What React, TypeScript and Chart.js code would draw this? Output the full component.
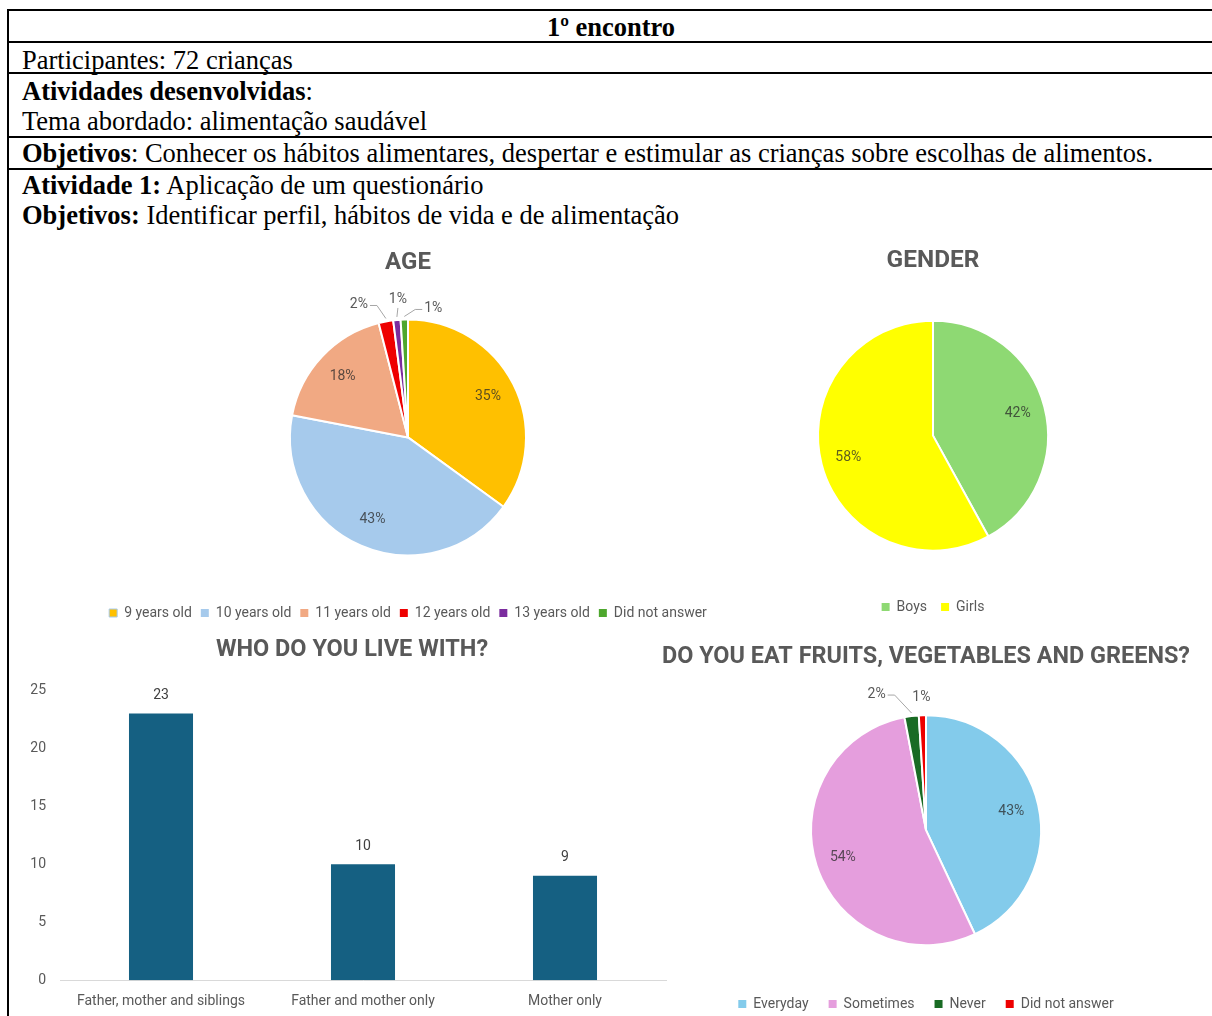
import React, { useEffect, useRef } from "react";
import { Chart, registerables } from "chart.js";

Chart.register(...registerables);

// ---------- DATA ----------
const ageLabels = ["9 years old", "10 years old", "11 years old", "12 years old", "13 years old", "Did not answer"];
const ageValues = [35, 43, 18, 2, 1, 1];
const ageColors = ["#FFC000", "#A6CAEC", "#F1A983", "#EE0000", "#7B2C9E", "#4EA72E"];

const genderLabels = ["Boys", "Girls"];
const genderValues = [42, 58];
const genderColors = ["#8ED973", "#FFFF00"];

const livingLabels = ["Father, mother and siblings", "Father and mother only", "Mother only"];
const livingValues = [23, 10, 9];

const fruitLabels = ["Everyday", "Sometimes", "Never", "Did not answer"];
const fruitValues = [43, 54, 2, 1];
const fruitColors = ["#83CBEB", "#E59EDD", "#196B24", "#EE0000"];

const FONT = "Roboto, 'Noto Sans', sans-serif";
const GRAY = "#595959";

// ---------- PLUGINS ----------
const pieLabelPlugin = {
  id: "pieLabels",
  afterDatasetsDraw(chart: any, _args: any, opts: any) {
    const { ctx } = chart;
    const meta = chart.getDatasetMeta(0);
    const data = chart.data.datasets[0].data;
    const outside = opts.outside || {};
    meta.data.forEach((arc: any, i: number) => {
      const { x, y, startAngle, endAngle, outerRadius } = arc.getProps(
        ["x", "y", "startAngle", "endAngle", "outerRadius"],
        true
      );
      const mid = (startAngle + endAngle) / 2;
      const text = data[i] + "%";
      ctx.save();
      ctx.font = `${opts.size || 14}px ${FONT}`;
      ctx.textAlign = "center";
      ctx.textBaseline = "middle";
      const o = outside[i];
      if (o) {
        const ex = x + Math.cos(mid) * outerRadius;
        const ey = y + Math.sin(mid) * outerRadius;
        const tx = ex + o[0];
        const ty = ey + o[1];
        const w = ctx.measureText(text).width;
        ctx.strokeStyle = "#A6A6A6";
        ctx.lineWidth = 1;
        ctx.beginPath();
        if (o[2] === "h") {
          const sx = o[0] < 0 ? tx + w / 2 + 2 : tx - w / 2 - 2;
          const kx = o[0] < 0 ? sx + 7 : sx - 7;
          ctx.moveTo(sx, ty + 1);
          ctx.lineTo(kx, ty + 1);
          ctx.lineTo(ex, ey - 3);
          ctx.stroke();
        } else if (o[2] === "v") {
          ctx.moveTo(tx, ty + 8);
          ctx.lineTo(ex, ey - 3);
          ctx.stroke();
        }
        ctx.fillStyle = GRAY;
        ctx.fillText(text, tx, ty);
      } else {
        const r = outerRadius * (opts.inset || 0.76);
        ctx.fillStyle = "rgba(40,40,40,0.75)";
        ctx.fillText(text, x + Math.cos(mid) * r, y + Math.sin(mid) * r);
      }
      ctx.restore();
    });
  },
};

const barValuePlugin = {
  id: "barValues",
  afterDatasetsDraw(chart: any) {
    const { ctx } = chart;
    const meta = chart.getDatasetMeta(0);
    const data = chart.data.datasets[0].data;
    ctx.save();
    ctx.font = `14px ${FONT}`;
    ctx.fillStyle = "#404040";
    ctx.textAlign = "center";
    ctx.textBaseline = "middle";
    meta.data.forEach((bar: any, i: number) => {
      ctx.fillText(String(data[i]), bar.x, bar.y - 18);
    });
    ctx.restore();
  },
};

function legendLabels(special?: { index: number; color: string }) {
  return (chart: any) => {
    const items = Chart.overrides.pie.plugins.legend.labels.generateLabels(chart);
    items.forEach((it: any) => {
      it.lineWidth = 0;
      if (special && it.index === special.index) {
        it.lineWidth = 1;
        it.strokeStyle = special.color;
      }
    });
    return items;
  };
}

function pieConfig(p: {
  labels: string[];
  values: number[];
  colors: string[];
  title: string;
  titleSize: number;
  titlePad: { top: number; bottom: number };
  legendPad: number;
  legendSize: number;
  radius: number;
  layoutPad: any;
  outside: any;
  special?: { index: number; color: string };
}) {
  return {
    type: "pie",
    data: {
      labels: p.labels,
      datasets: [
        {
          data: p.values,
          backgroundColor: p.colors,
          borderColor: "#FFFFFF",
          borderWidth: 2,
        },
      ],
    },
    options: {
      animation: false,
      responsive: false,
      maintainAspectRatio: false,
      radius: p.radius,
      layout: { padding: p.layoutPad },
      plugins: {
        tooltip: { enabled: false },
        title: {
          display: true,
          text: p.title,
          color: GRAY,
          font: { family: FONT, size: p.titleSize, weight: "bold", lineHeight: 1.2 },
          padding: p.titlePad,
        },
        legend: {
          display: true,
          position: "bottom",
          labels: {
            color: GRAY,
            font: { family: FONT, size: p.legendSize },
            boxWidth: 8,
            boxHeight: 8,
            padding: p.legendPad,
            generateLabels: legendLabels(p.special),
          },
        },
        pieLabels: { outside: p.outside, inset: 0.76, size: 14 },
      },
    },
    plugins: [pieLabelPlugin],
  };
}

function useChart(ref: React.RefObject<HTMLCanvasElement>, make: () => any) {
  useEffect(() => {
    if (!ref.current) return;
    const chart = new Chart(ref.current, make());
    return () => chart.destroy();
  }, []);
}

export default function App() {
  const ageRef = useRef<HTMLCanvasElement>(null);
  const genderRef = useRef<HTMLCanvasElement>(null);
  const barRef = useRef<HTMLCanvasElement>(null);
  const fruitRef = useRef<HTMLCanvasElement>(null);

  useChart(ageRef, () =>
    pieConfig({
      labels: ageLabels,
      values: ageValues,
      colors: ageColors,
      title: "AGE",
      titleSize: 24,
      titlePad: { top: 9, bottom: 0 },
      legendPad: 9,
      legendSize: 14,
      radius: 118,
      layoutPad: { left: 0, right: 4, top: 0, bottom: 0 },
      outside: { 3: [-27, -17, "h"], 4: [1, -20, "v"], 5: [29, -11, "h"] },
      special: { index: 0, color: "#A6CAEC" },
    })
  );

  useChart(genderRef, () =>
    pieConfig({
      labels: genderLabels,
      values: genderValues,
      colors: genderColors,
      title: "GENDER",
      titleSize: 24.4,
      titlePad: { top: 16, bottom: 10 },
      legendPad: 14,
      legendSize: 14,
      radius: 115,
      layoutPad: { left: 0, right: 0, top: 0, bottom: 0 },
      outside: {},
    })
  );

  useChart(fruitRef, () =>
    pieConfig({
      labels: fruitLabels,
      values: fruitValues,
      colors: fruitColors,
      title: "DO YOU EAT FRUITS, VEGETABLES AND GREENS?",
      titleSize: 23.6,
      titlePad: { top: 13, bottom: 12 },
      legendPad: 20,
      legendSize: 14,
      radius: 115,
      layoutPad: { left: 0, right: 0, top: 0, bottom: 0 },
      outside: { 2: [-35, -22, "h"], 3: [-1, -18, "none"] },
    })
  );

  useChart(barRef, () => ({
    type: "bar",
    data: {
      labels: livingLabels,
      datasets: [
        {
          data: livingValues,
          backgroundColor: "#156082",
          barPercentage: 0.317,
          categoryPercentage: 1,
          yAxisID: "y",
        },
      ],
    },
    options: {
      animation: false,
      responsive: false,
      maintainAspectRatio: false,
      layout: { padding: { left: 16, right: 4, top: 0, bottom: 0 } },
      plugins: {
        legend: { display: false },
        tooltip: { enabled: false },
        title: {
          display: true,
          text: "WHO DO YOU LIVE WITH?",
          color: GRAY,
          font: { family: FONT, size: 23.5, weight: "bold", lineHeight: 1.2 },
          padding: { top: 6, bottom: 26 },
        },
      },
      scales: {
        x: {
          grid: { display: false, drawTicks: false },
          border: { display: true, color: "#D9D9D9", width: 1 },
          ticks: { color: GRAY, font: { family: FONT, size: 14 }, padding: 12.5 },
        },
        y: {
          min: 0,
          max: 25,
          grid: { display: false, drawTicks: false },
          border: { display: false },
          ticks: { stepSize: 5, color: GRAY, font: { family: FONT, size: 14 }, padding: 14 },
          afterFit: (scale: any) => {
            scale.width = 44;
          },
        },
        y2: {
          position: "right",
          display: true,
          grid: { display: false, drawTicks: false },
          border: { display: false },
          ticks: { display: false },
          afterFit: (scale: any) => {
            scale.width = 22;
          },
        },
      },
    },
    plugins: [barValuePlugin],
  }));

  const line = (top: number): React.CSSProperties => ({
    position: "absolute",
    left: 7,
    top,
    width: 1230,
    height: 2,
    background: "#000",
  });
  const txt = (top: number): React.CSSProperties => ({
    position: "absolute",
    left: 22,
    top,
    fontSize: 26.5,
    lineHeight: "30px",
    whiteSpace: "nowrap",
  });
  const cv = (left: number, top: number): React.CSSProperties => ({
    position: "absolute",
    left,
    top,
    display: "block",
  });

  return (
    <div
      style={{
        position: "absolute",
        left: 0,
        top: 0,
        width: 1212,
        height: 1016,
        overflow: "hidden",
        background: "#FFFFFF",
        color: "#000",
        fontFamily: "'Liberation Serif', 'Times New Roman', serif",
      }}
    >
      <div style={line(9)} />
      <div style={line(41)} />
      <div style={line(72)} />
      <div style={line(136)} />
      <div style={line(168)} />
      <div style={{ position: "absolute", left: 7, top: 9, width: 2, height: 1100, background: "#000" }} />

      <div style={{ ...txt(12), left: 10, width: 1202, textAlign: "center", fontWeight: "bold" }}>1º encontro</div>
      <div style={txt(45)}>Participantes: 72 crianças</div>
      <div style={txt(76)}>
        <b>Atividades desenvolvidas</b>:
      </div>
      <div style={txt(106)}>Tema abordado: alimentação saudável</div>
      <div style={txt(138)}>
        <b>Objetivos</b>: Conhecer os hábitos alimentares, despertar e estimular as crianças sobre escolhas de alimentos.
      </div>
      <div style={txt(170)}>
        <b>Atividade 1:</b> Aplicação de um questionário
      </div>
      <div style={txt(200)}>
        <b>Objetivos:</b> Identificar perfil, hábitos de vida e de alimentação
      </div>

      <canvas ref={ageRef} width={620} height={390} style={cv(100, 240)} />
      <canvas ref={genderRef} width={406} height={394} style={cv(730, 230)} />
      <canvas ref={barRef} width={692} height={392} style={cv(0, 630)} />
      <canvas ref={fruitRef} width={528} height={391} style={cv(662, 630)} />
    </div>
  );
}
